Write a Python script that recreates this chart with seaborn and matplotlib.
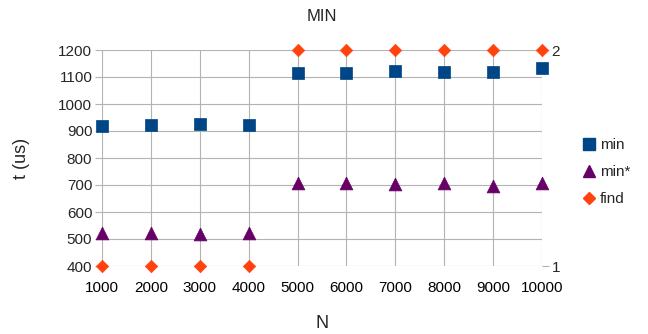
import matplotlib
matplotlib.use("Agg")
import matplotlib.pyplot as plt
import seaborn as sns
import pandas as pd

N = [1000, 2000, 3000, 4000, 5000, 6000, 7000, 8000, 9000, 10000]
t_min = [920, 923, 927, 923, 1116, 1115, 1123, 1119, 1119, 1132]
t_min_star = [522, 524, 519, 523, 706, 706, 703, 706, 698, 709]
find = [1, 1, 1, 1, 2, 2, 2, 2, 2, 2]

df = pd.DataFrame({"N": N, "min": t_min, "min*": t_min_star, "find": find})

sns.set_style("white")
plt.rcParams["font.family"] = ["Liberation Sans", "DejaVu Sans"]

fig = plt.figure(figsize=(6.48, 3.34), dpi=100)
ax = fig.add_axes([102/648, 1-266/334, 440/648, 216/334])
ax2 = ax.twinx()

c_min = "#004586"
c_star = "#660066"
c_find = "#ff420e"

sns.scatterplot(data=df, x="N", y="min", ax=ax, marker="s", s=80, color=c_min,
                edgecolor=c_min, linewidth=0.5, zorder=3, legend=False, clip_on=False)
sns.scatterplot(data=df, x="N", y="min*", ax=ax, marker="^", s=85, color=c_star,
                edgecolor=c_star, linewidth=0.5, zorder=3, legend=False, clip_on=False)
sns.scatterplot(data=df, x="N", y="find", ax=ax2, marker="D", s=40, color=c_find,
                edgecolor=c_find, linewidth=0.5, zorder=3, legend=False, clip_on=False)

ax.set_xlim(1000, 10000)
ax.set_ylim(400, 1200)
ax2.set_ylim(1, 2)
ax.set_xticks(N)
ax.set_yticks(range(400, 1201, 100))
ax2.set_yticks([1, 2])

ax.grid(True, color="#b3b3b3", linewidth=0.8)
ax.set_axisbelow(True)
for a in (ax, ax2):
    for s in a.spines.values():
        s.set_visible(False)
ax.tick_params(axis="x", labelsize=11, length=0, pad=11, colors="#000000")
ax.tick_params(axis="y", labelsize=11, length=5, width=0.8, color="#b3b3b3", pad=2)
ax2.tick_params(axis="y", labelsize=11, length=5, width=0.8, color="#b3b3b3", pad=2)

ax.set_xlabel("N", fontsize=13, labelpad=14)
ax.set_ylabel("t (us)", fontsize=13, labelpad=20)
ax.set_title("MIN", fontsize=12, pad=21)
ax2.set_ylabel("")

from matplotlib.lines import Line2D
handles = [
    Line2D([], [], linestyle="none", marker="s", color=c_min, markersize=9),
    Line2D([], [], linestyle="none", marker="^", color=c_star, markersize=9),
    Line2D([], [], linestyle="none", marker="D", color=c_find, markersize=6),
]
fig.legend(handles, ["min", "min*", "find"], loc="center left",
           bbox_to_anchor=(574/648, 1-172/334), frameon=False, fontsize=11,
           handletextpad=0.1, labelspacing=0.85, handlelength=1.2, borderaxespad=0)

fig.savefig("out.png", dpi=100)
